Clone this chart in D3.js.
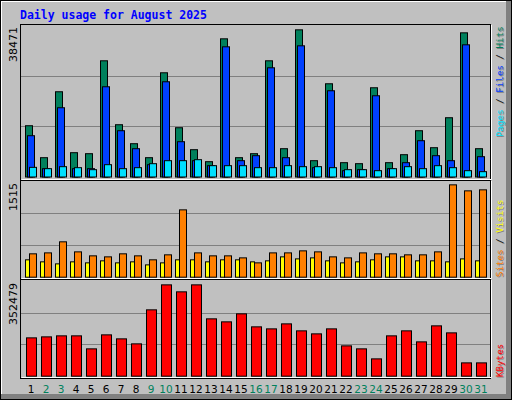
<!DOCTYPE html><html><head><meta charset="utf-8">
<script src="https://cdn.jsdelivr.net/npm/d3@7"></script>
<style>body{margin:0;background:#fff}svg{display:block}</style></head><body>
<svg id="c" width="512" height="400"></svg>
<script>
const days = d3.range(1,32);
const weekend = [2,3,9,10,16,17,23,24,30,31];
const hits = [13020,4904,21645,6172,5918,29508,13274,8455,4904,26464,12513,6933,3889,35088,4904,5918,29508,7187,37371,4143,23674,3636,3382,22660,3636,5665,11752,7440,15050,36610,7187];
const files = [10484,2114,17586,2114,2114,22913,11752,7187,3128,24181,8962,4143,2875,33059,4143,5411,27732,4904,33313,2367,21899,1606,1860,20630,2114,3636,9216,5411,4143,33566,5158];
const pages = [2452,2114,2621,2367,1860,3128,2114,2367,3382,4143,4143,4397,2875,2875,2875,2367,2367,2875,2621,2621,2367,1860,1860,1606,2114,2621,2114,2875,2367,1606,1353];
const sites = [275,243,211,243,227,259,227,243,195,227,275,275,243,275,275,243,259,322,290,306,259,227,243,275,322,322,259,259,243,290,259];
const visits = [370,385,560,401,338,322,370,338,275,354,1066,385,338,338,306,227,385,385,417,401,322,306,385,370,370,354,354,401,1462,1367,1383];
const kbytes = [142700,146400,150200,150200,101800,153900,139000,120400,247000,340000,314000,340000,213500,202300,232100,183700,176200,194800,168800,157600,176200,112900,101800,64500,150200,168800,127800,187400,161300,49600,49600];
const maxes = [38471,1515,352479];

const svg = d3.select("#c");
// frame
svg.append("rect").attr("x",0).attr("y",0).attr("width",512).attr("height",400).attr("fill","#000");
svg.append("rect").attr("x",1).attr("y",1).attr("width",510).attr("height",398).attr("fill","#808080");
svg.append("rect").attr("x",1).attr("y",1).attr("width",505).attr("height",393).attr("fill","#fff");
svg.append("rect").attr("x",2).attr("y",2).attr("width",504).attr("height",392).attr("fill","#C0C0C0");

const x = d3.scaleBand().domain(days).range([22,487]);
const panels = [
  {top:25,base:176.5,max:maxes[0]},
  {top:181,base:276.7,max:maxes[1]},
  {top:281,base:375.7,max:maxes[2]}
];
panels.forEach(p=>{p.y=d3.scaleLinear().domain([0,p.max]).range([p.base,p.top]);});
// panel borders
[[24,180],[180,279],[279,378]].forEach(([a,b])=>{
  svg.append("rect").attr("x",20.5).attr("y",a+0.5).attr("width",470).attr("height",b-a).attr("fill","none").attr("stroke","#000");
  svg.append("path").attr("d",`M21.5,${b-0.5}H491.5V${a+1}`).attr("fill","none").attr("stroke","#fff");
});
// gridlines
panels.forEach(p=>{
  [1/3,2/3].forEach(f=>{
    const yy=Math.round(p.y(p.max*f))+0.5;
    svg.append("line").attr("x1",21).attr("x2",490).attr("y1",yy).attr("y2",yy).attr("stroke","#808080");
  });
});
function bars(data,p,off,w,color){
  svg.append("g").selectAll("rect").data(data).join("rect")
    .attr("x",(d,i)=>x(days[i])+off+0.5).attr("y",d=>p.y(d)+0.5)
    .attr("width",w).attr("height",d=>p.base-p.y(d))
    .attr("fill",color).attr("stroke","#000").attr("stroke-width",1);
}
bars(hits,panels[0],3,7,"#00805C");
bars(files,panels[0],5,7,"#0040FF");
bars(pages,panels[0],7,7,"#00E0FF");
bars(sites,panels[1],3,4,"#FFFF00");
bars(visits,panels[1],7,7,"#FF8000");
bars(kbytes,panels[2],4,10,"#FF0000");

// title
svg.append("text").attr("x",20).attr("y",19).attr("font-family","DejaVu Sans Mono").attr("font-weight","bold")
  .attr("font-size","11.5px").attr("fill","#0000FF").text("Daily usage for August 2025");
// y max labels
panels.forEach((p,i)=>{
  svg.append("text").attr("transform",`translate(17,${p.top+2}) rotate(-90)`).attr("text-anchor","end")
    .attr("font-family","DejaVu Sans").attr("font-size","11px").attr("fill","#000").text(maxes[i]);
});
// right legends
function legend(parts,ystart){
  [["#808080",1],[null,0]].forEach(([shadow,o])=>{
    const t=svg.append("text").attr("transform",`translate(${503+o},${ystart+o}) rotate(-90)`)
      .attr("font-family","DejaVu Sans Mono").attr("font-size","9.2px");
    parts.forEach(([s,c])=>t.append("tspan").attr("fill",shadow||c).text(s));
  });
}
legend([["Pages","#00E0FF"],[" / ","#000"],["Files","#0040FF"],[" / ","#000"],["Hits","#00805C"]],137);
legend([["Sites","#FF8000"],[" / ","#000"],["Visits","#FFFF00"]],277);
legend([["KBytes","#FF0000"]],377);
// day labels
svg.append("g").selectAll("text").data(days).join("text")
  .attr("x",d=>x(d)+x.bandwidth()/2+1.5).attr("y",393).attr("text-anchor","middle")
  .attr("font-family","DejaVu Sans").attr("font-size","10.5px")
  .attr("fill",d=>weekend.includes(d)?"#00805C":"#000").text(d=>d);
</script></body></html>
